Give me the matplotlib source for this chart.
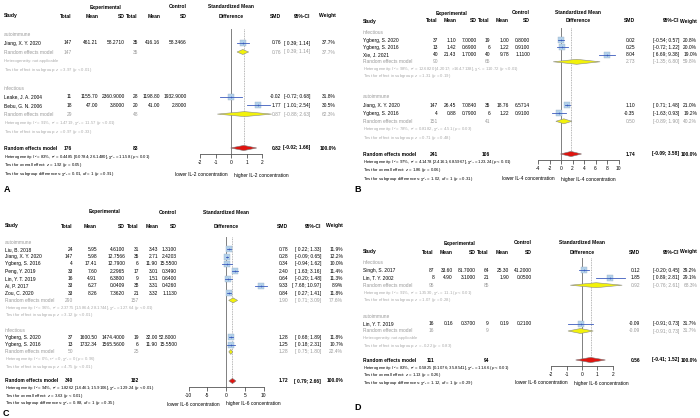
import numpy as np
import matplotlib.pyplot as plt

plt.rcParams['font.family'] = ['Liberation Sans', 'DejaVu Sans']
plt.rcParams['mathtext.fontset'] = 'custom'
plt.rcParams['mathtext.rm'] = 'Liberation Sans'
plt.rcParams['mathtext.it'] = 'Liberation Sans:italic'
plt.rcParams['mathtext.bf'] = 'Liberation Sans:bold'
plt.rcParams['axes.unicode_minus'] = False

#---- panel A : IL-2
a_marker = "IL-2"
a_groups = ["autoimmune", "infectious"]
a_study = ["Jiang, X. Y. 2020", "Leake, J. A. 2004", "Bebu, G. N. 2006"]
a_grp = [0, 1, 1]
a_e_n = [147, 11, 18]
a_e_mean = [461.21, 1155.70, 47.00]
a_e_sd = [58.2710, 2360.9000, 3.8000]
a_c_n = [35, 28, 20]
a_c_mean = [416.16, 1198.80, 41.00]
a_c_sd = [58.3466, 1932.9000, 2.8000]
a_smd = [0.76, -0.02, 1.77]
a_lo = [0.39, -0.72, 1.01]
a_hi = [1.14, 0.68, 2.54]
a_w = [37.7, 31.8, 30.5]
a_sub_smd = [0.76, 0.87]
a_sub_lo = [0.39, -0.88]
a_sub_hi = [1.14, 2.63]
a_sub_w = [37.7, 62.3]
a_sub_het = ["Heterogeneity: not applicable",
             "Heterogeneity: $I$² = 91%, τ² = 1.4719, χ²₁ = 11.57 ($p$ < 0.01)"]
a_sub_test = ["Test for effect in subgroup: $z$ = 3.97 ($p$ < 0.01)",
              "Test for effect in subgroup: $z$ = 0.97 ($p$ = 0.33)"]
a_all = [0.82, -0.02, 1.66]
a_all_het = "Heterogeneity: $I$² = 83%, τ² = 0.4485 [0.0784; 26.1480], χ²₂ = 11.58 ($p$ < 0.01)"
a_all_test = "Test for overall effect: $z$ = 1.92 ($p$ = 0.05)"
a_diff_test = "Test for subgroup differences: χ²₁ = 0.01, $df$ = 1 ($p$ = 0.91)"
a_ticks = [-2, -1, 0, 1, 2]

#---- panel B : IL-4
b_marker = "IL-4"
b_groups = ["infectious", "autoimmune"]
b_study = ["Ygberg, S. 2020", "Ygberg, S. 2016", "Xie, J. 2021", "Jiang, X. Y. 2020", "Ygberg, S. 2016"]
b_grp = [0, 0, 0, 1, 1]
b_e_n = [37, 13, 40, 147, 4]
b_e_mean = [1.10, 1.42, 21.43, 26.45, 0.88]
b_e_sd = [7.0000, 0.6900, 1.7000, 7.0840, 0.7900]
b_c_n = [19, 6, 40, 35, 6]
b_c_mean = [1.00, 1.22, 9.78, 18.76, 1.22]
b_c_sd = [0.8000, 0.9100, 1.1100, 6.5714, 0.9100]
b_smd = [0.02, 0.25, 8.04, 1.10, -0.35]
b_lo = [-0.54, -0.72, 6.69, 0.71, -1.63]
b_hi = [0.57, 1.22, 9.38, 1.48, 0.93]
b_w = [20.8, 20.0, 19.0, 21.0, 19.2]
b_sub_smd = [2.73, 0.50]
b_sub_lo = [-1.35, -0.89]
b_sub_hi = [6.80, 1.90]
b_sub_w = [59.8, 40.2]
b_sub_het = ["Heterogeneity: $I$² = 98%, τ² = 12.6820 [4.2017; >164.7138], χ²₂ = 110.72 ($p$ < 0.01)",
             "Heterogeneity: $I$² = 78%, τ² = 0.8182, χ²₁ = 4.51 ($p$ = 0.03)"]
b_sub_test = ["Test for effect in subgroup: $z$ = 1.31 ($p$ = 0.19)",
              "Test for effect in subgroup: $z$ = 0.71 ($p$ = 0.48)"]
b_all = [1.74, -0.09, 3.58]
b_all_het = "Heterogeneity: $I$² = 97%, τ² = 4.1478 [2.4161; 68.5967], χ²₄ = 123.24 ($p$ < 0.01)"
b_all_test = "Test for overall effect: $z$ = 1.86 ($p$ = 0.06)"
b_diff_test = "Test for subgroup differences: χ²₁ = 1.02, $df$ = 1 ($p$ = 0.31)"
b_ticks = [-4, -2, 0, 2, 4, 6, 8, 10]

#---- panel C : IL-6
c_marker = "IL-6"
c_groups = ["autoimmune", "infectious"]
c_study = ["Liu, B. 2018", "Jiang, X. Y. 2020", "Ygberg, S. 2016", "Peng, Y. 2019", "Lin, Y. T. 2019",
           "Ai, P. 2017", "Zou, C. 2020", "Ygberg, S. 2020", "Ygberg, S. 2016"]
c_grp = [0, 0, 0, 0, 0, 0, 0, 1, 1]
c_e_n = [24, 147, 4, 33, 16, 33, 33, 37, 13]
c_e_mean = [5.95, 5.98, 17.41, 7.60, 4.91, 6.27, 8.26, 1600.50, 1732.34]
c_e_sd = [4.6100, 12.7566, 12.7900, 2.2965, 6.3800, 0.0409, 7.3620, 1474.4000, 1565.5600]
c_c_n = [31, 35, 6, 17, 9, 38, 21, 19, 6]
c_c_mean = [3.43, 2.71, 11.90, 3.01, 1.51, 3.31, 3.32, 32.00, 11.90]
c_c_sd = [1.3100, 2.4203, 15.5500, 0.3490, 0.6400, 0.4260, 1.1130, 52.8000, 15.5500]
c_smd = [0.78, 0.28, 0.34, 2.40, 0.64, 9.33, 0.84, 1.28, 1.25]
c_lo = [0.22, -0.09, -0.94, 1.63, -0.20, 7.68, 0.27, 0.68, 0.18]
c_hi = [1.33, 0.65, 1.62, 3.16, 1.48, 10.97, 1.41, 1.89, 2.31]
c_w = [11.9, 12.2, 10.0, 11.4, 11.3, 8.9, 11.8, 11.8, 10.7]
c_sub_smd = [1.90, 1.28]
c_sub_lo = [0.71, 0.75]
c_sub_hi = [3.09, 1.80]
c_sub_w = [77.6, 22.4]
c_sub_het = ["Heterogeneity: $I$² = 96%, τ² = 2.3775 [1.5864; 28.1744], χ²₆ = 127.64 ($p$ < 0.01)",
             "Heterogeneity: $I$² = 0%, τ² = 0, χ²₁ = 0 ($p$ = 0.96)"]
c_sub_test = ["Test for effect in subgroup: $z$ = 3.12 ($p$ < 0.01)",
              "Test for effect in subgroup: $z$ = 4.75 ($p$ < 0.01)"]
c_all = [1.72, 0.79, 2.66]
c_all_het = "Heterogeneity: $I$² = 94%, τ² = 1.8262 [1.6461; 15.9106], χ²₈ = 129.24 ($p$ < 0.01)"
c_all_test = "Test for overall effect: $z$ = 3.63 ($p$ < 0.01)"
c_diff_test = "Test for subgroup differences: χ²₁ = 0.88, $df$ = 1 ($p$ = 0.35)"
c_ticks = [-10, -5, 0, 5, 10]

#---- panel D : IL-6
d_marker = "IL-6"
d_groups = ["infectious", "autoimmune"]
d_study = ["Singh, S. 2017", "Lin, T. Y. 2002", "Lin, Y. T. 2019"]
d_grp = [0, 0, 1]
d_e_n = [87, 8, 16]
d_e_mean = [33.60, 4.90, 0.16]
d_e_sd = [81.7000, 3.1000, 0.3700]
d_c_n = [64, 21, 9]
d_c_mean = [25.30, 1.90, 0.19]
d_c_sd = [41.2000, 0.0500, 0.2100]
d_smd = [0.12, 1.85, -0.09]
d_lo = [-0.20, 0.89, -0.91]
d_hi = [0.45, 2.81, 0.73]
d_w = [39.2, 29.1, 31.7]
d_sub_smd = [0.92, -0.09]
d_sub_lo = [-0.76, -0.91]
d_sub_hi = [2.61, 0.73]
d_sub_w = [68.3, 31.7]
d_sub_het = ["Heterogeneity: $I$² = 91%, τ² = 1.3530, χ²₁ = 11.1 ($p$ < 0.01)",
             "Heterogeneity: not applicable"]
d_sub_test = ["Test for effect in subgroup: $z$ = 1.07 ($p$ = 0.28)",
              "Test for effect in subgroup: $z$ = -0.22 ($p$ = 0.83)"]
d_all = [0.56, -0.41, 1.52]
d_all_het = "Heterogeneity: $I$² = 83%, τ² = 0.5825 [0.1076; 35.8541], χ²₂ = 11.66 ($p$ < 0.01)"
d_all_test = "Test for overall effect: $z$ = 1.13 ($p$ = 0.26)"
d_diff_test = "Test for subgroup differences: χ²₁ = 1.12, $df$ = 1 ($p$ = 0.29)"
d_ticks = [-2, -1, 0, 1, 2]


def panel(pre):
    g = globals()
    keys = ["marker", "groups", "study", "grp", "e_n", "e_mean", "e_sd", "c_n", "c_mean", "c_sd",
            "smd", "lo", "hi", "w", "sub_smd", "sub_lo", "sub_hi", "sub_w", "sub_het", "sub_test",
            "all", "all_het", "all_test", "diff_test", "ticks"]
    return {k: g[pre + "_" + k] for k in keys}


#layout in figure pixels (700 x 418)
layouts = {
    "a": dict(study=4, cols=[72, 98, 125, 138, 160, 187], smd=281, ci=310, wt=336, exp_c=106,
              h=(7, 16), sec=[(34, 9.0), (88, 8.7), (148, 8.7)], axis_y=154, fx=(188, 292),
              zero=231, ppu=15.5, lab_c=231, lab_y=175, letter=(4, 189), name="A"),
    "b": dict(study=363, cols=[438, 456, 477, 490, 509, 530], smd=635, ci=679, wt=697, exp_c=452,
              h=(13, 21), sec=[(33, 7.2), (97, 8.1), (154, 8.2)], axis_y=160, fx=(528, 626),
              zero=561, ppu=5.75, lab_c=558, lab_y=179, letter=(354, 190), name="B"),
    "c": dict(study=5, cols=[73, 97, 125, 139, 158, 177], smd=288, ci=321, wt=343, exp_c=105,
              h=(212, 226), sec=[(242, 7.3), (330, 7.3), (381, 7.4)], axis_y=387, fx=(178, 276),
              zero=226, ppu=3.75, lab_c=223, lab_y=404, letter=(3, 413), name="C"),
    "d": dict(study=363, cols=[434, 453, 476, 489, 509, 532], smd=640, ci=679, wt=697, exp_c=460,
              h=(243, 252), sec=[(263, 7.4), (316, 7.5), (360, 7.6)], axis_y=366, fx=(540, 632),
              zero=582, ppu=15.4, lab_c=571, lab_y=383, letter=(354, 407), name="D"),
}

W, H = 700, 418
FS = 3.5
FS_HEAD = 3.6
FS_SMALL = 3.05
GRAY = "#9a9a9a"
LGRAY = "#ababab"
SQ_FACE = "#b3d1ea"
SQ_EDGE = "#9fb6cc"
CI_COL = "#3b5bbd"

fig = plt.figure(figsize=(W / 100, H / 100), dpi=100)
bg = fig.add_axes([0, 0, 1, 1])
bg.set_xlim(0, W)
bg.set_ylim(H, 0)
bg.axis('off')


def ci_text(lo, hi):
    return "[" + f"{lo:5.2f}" + "; " + f"{hi:.2f}" + "]"


def put(x, y, s, ha="right", color="black", bold=False, size=FS):
    bg.text(x, y, s, ha=ha, va="center", fontsize=size, color=color,
            fontweight="bold" if bold else "normal")


def draw_panel(d, L):
    top = L["sec"][0][0] - 5
    ax = fig.add_axes([L["fx"][0] / W, 1 - L["axis_y"] / H,
                       (L["fx"][1] - L["fx"][0]) / W, (L["axis_y"] - top) / H])
    ax.patch.set_alpha(0)
    ax.set_xlim((L["fx"][0] - L["zero"]) / L["ppu"], (L["fx"][1] - L["zero"]) / L["ppu"])
    ax.set_ylim(L["axis_y"], top)
    for s in ["top", "left", "right"]:
        ax.spines[s].set_visible(False)
    ax.spines["bottom"].set_bounds(d["ticks"][0], d["ticks"][-1])
    ax.spines["bottom"].set_linewidth(0.5)
    ax.spines["bottom"].set_color("#333333")
    ax.set_xticks(d["ticks"])
    ax.set_yticks([])
    ax.tick_params(axis="x", length=2.8, width=0.5, pad=1.8, labelsize=FS, color="#333333")

    c = L["cols"]
    # headers
    hy1, hy2 = L["h"]
    std_c = L["zero"] + L["ppu"] * (d["ticks"][0] + d["ticks"][-1]) / 2
    put(L["exp_c"], hy1, "Experimental", ha="center", bold=True, size=FS_HEAD)
    put(c[5], hy1, "Control", bold=True, size=FS_HEAD)
    put(std_c, hy1, "Standardized Mean", ha="center", bold=True, size=FS_HEAD)
    put(L["study"], hy2, "Study", ha="left", bold=True, size=FS_HEAD)
    for x, s in zip(c, ["Total", "Mean", "SD", "Total", "Mean", "SD"]):
        put(x, hy2, s, bold=True, size=FS_HEAD)
    put(std_c, hy2, "Difference", ha="center", bold=True, size=FS_HEAD)
    put(L["smd"], hy2, "SMD", bold=True, size=FS_HEAD)
    put(L["ci"], hy2, "95%-CI", bold=True, size=FS_HEAD)
    put(L["wt"], hy2, "Weight", bold=True, size=FS_HEAD)

    wmax = max(d["w"])
    for gi, gname in enumerate(d["groups"]):
        y, dy = L["sec"][gi]
        put(L["study"], y, gname, ha="left", color=GRAY)
        idx = [i for i in range(len(d["study"])) if d["grp"][i] == gi]
        for i in idx:
            y += dy
            put(L["study"], y, d["study"][i], ha="left")
            vals = [str(d["e_n"][i]), f"{d['e_mean'][i]:.2f}", f"{d['e_sd'][i]:.4f}",
                    str(d["c_n"][i]), f"{d['c_mean'][i]:.2f}", f"{d['c_sd'][i]:.4f}"]
            for x, s in zip(c, vals):
                put(x, y, s)
            put(L["smd"], y, f"{d['smd'][i]:.2f}")
            put(L["ci"], y, ci_text(d["lo"][i], d["hi"][i]))
            put(L["wt"], y, f"{d['w'][i]:.1f}%")
            side = 6.2 * np.sqrt(d["w"][i] / wmax)
            ax.plot(d["smd"][i], y, marker="s", markersize=side * 0.72, markerfacecolor=SQ_FACE,
                    markeredgecolor=SQ_EDGE, markeredgewidth=0.3, linestyle="none", clip_on=False, zorder=3)
            ax.plot([d["lo"][i], d["hi"][i]], [y, y], color=CI_COL, lw=0.6, clip_on=False, zorder=4)
            ax.plot(d["smd"][i], y, marker="+", markersize=1.8, color=CI_COL, mew=0.4, clip_on=False, zorder=4)
        # subgroup random effects
        y += dy
        put(L["study"], y, "Random effects model", ha="left", color=GRAY)
        put(c[0], y, str(sum(d["e_n"][i] for i in idx)), color=GRAY)
        put(c[3], y, str(sum(d["c_n"][i] for i in idx)), color=GRAY)
        put(L["smd"], y, f"{d['sub_smd'][gi]:.2f}", color=GRAY)
        put(L["ci"], y, ci_text(d["sub_lo"][gi], d["sub_hi"][gi]), color=GRAY)
        put(L["wt"], y, f"{d['sub_w'][gi]:.1f}%", color=GRAY)
        ax.fill([d["sub_lo"][gi], d["sub_smd"][gi], d["sub_hi"][gi], d["sub_smd"][gi]],
                [y, y - 2.5, y, y + 2.5], facecolor="#f2f20a", edgecolor="#8a8a8a", lw=0.4,
                clip_on=False, zorder=3)
        y += dy
        put(L["study"], y, d["sub_het"][gi], ha="left", color=LGRAY, size=FS_SMALL)
        y += dy
        put(L["study"], y, d["sub_test"][gi], ha="left", color=LGRAY, size=FS_SMALL)

    # overall
    y, dy = L["sec"][2]
    put(L["study"], y, "Random effects model", ha="left", bold=True)
    put(c[0], y, str(sum(d["e_n"])), bold=True)
    put(c[3], y, str(sum(d["c_n"])), bold=True)
    est, lo, hi = d["all"]
    put(L["smd"], y, f"{est:.2f}", bold=True)
    put(L["ci"], y, ci_text(lo, hi), bold=True)
    put(L["wt"], y, "100.0%", bold=True)
    ax.fill([lo, est, hi, est], [y, y - 2.6, y, y + 2.6], facecolor="#e0140f", edgecolor="#7a7a7a",
            lw=0.4, clip_on=False, zorder=3)
    ax.plot([0, 0], [top, L["axis_y"]], color="#808080", lw=0.7, zorder=1)
    ax.plot([est, est], [top, y], color="#8c8c8c", lw=0.5, linestyle=(0, (1.2, 1.2)), zorder=1)
    put(L["study"], y + dy, d["all_het"], ha="left", size=FS_SMALL)
    put(L["study"], y + 2 * dy, d["all_test"], ha="left", size=FS_SMALL)
    put(L["study"], y + 3 * dy, d["diff_test"], ha="left", size=FS_SMALL)

    put(L["lab_c"] - 3, L["lab_y"], f"lower {d['marker']} concentration")
    put(L["lab_c"] + 3, L["lab_y"], f"higher {d['marker']} concentration", ha="left")
    bg.text(L["letter"][0], L["letter"][1], L["name"], ha="left", va="center",
            fontsize=6.5, fontweight="bold")


for pre in ["a", "b", "c", "d"]:
    draw_panel(panel(pre), layouts[pre])

fig.savefig("out.png", dpi=100)
